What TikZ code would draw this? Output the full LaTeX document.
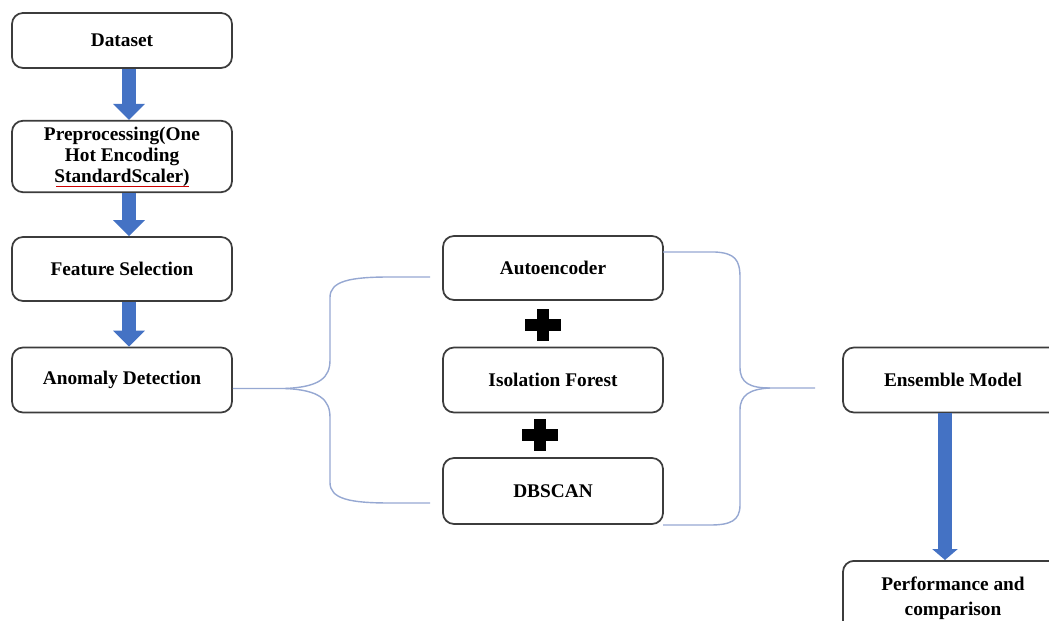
\documentclass[tikz,border=0pt]{standalone}
\usepackage{fontspec}
\setmainfont{Liberation Serif}
\usetikzlibrary{arrows.meta}

\definecolor{boxline}{RGB}{60,60,60}
\definecolor{flowblue}{RGB}{68,114,196}
\definecolor{bracecol}{RGB}{150,168,210}

\tikzset{
  stage/.style={draw=boxline, line width=1pt, rounded corners=0.22cm, fill=white,
    minimum width=4.4cm, minimum height=1.3cm, align=center,
    font=\fontsize{11}{11}\selectfont\bfseries},
  flowarrow/.style={draw=flowblue, line width=0.27cm,
    -{Triangle[width=0.62cm,length=0.32cm]}},
  bracket/.style={draw=bracecol, line width=0.8pt}
}

\begin{document}
\begin{tikzpicture}
            \useasboundingbox (0,0) rectangle (20.98,-12.42);
            % left column
            \node[stage, minimum height=1.1cm] (ds) at (2.44,-0.81) {Dataset};
            \node[stage] (pp) at (2.44,-3.13) {Preprocessing(One\\[1pt]Hot Encoding\\[1pt]StandardScaler)};
            \draw[red!80!black, line width=0.4pt] (1.12,-3.72) -- (3.78,-3.72);
            \node[stage, minimum height=1.28cm] (fs) at (2.44,-5.38) {Feature Selection};
            \node[stage] (ad) at (2.44,-7.6) {Anomaly Detection};
            \draw[flowarrow] ([xshift=0.14cm]ds.south) -- ([xshift=0.14cm]pp.north);
            \draw[flowarrow] ([xshift=0.14cm]pp.south) -- ([xshift=0.14cm]fs.north);
            \draw[flowarrow] ([xshift=0.14cm]fs.south) -- ([xshift=0.14cm]ad.north);
            % middle column
            \node[stage, minimum height=1.28cm] (ae) at (11.06,-5.36) {Autoencoder};
            \node[stage] (if) at (11.06,-7.6) {Isolation Forest};
            \node[stage, minimum height=1.32cm] (db) at (11.06,-9.82) {DBSCAN};
            \foreach \px/\py in {10.86/-6.5, 10.8/-8.7} {
              \fill (\px-0.36,\py-0.12) rectangle (\px+0.36,\py+0.12);
              \fill (\px-0.12,\py-0.32) rectangle (\px+0.12,\py+0.32);
            }
            % braces
            \coordinate (lt) at (8.6,-5.54);
            \coordinate (lb) at (8.6,-10.06);
            \draw[bracket] ([yshift=-0.17cm]ad.east) -- (5.7,-7.77)
              .. controls (6.4,-7.74) and (6.6,-7.55) .. (6.6,-7.2) -- (6.6,-5.95)
              .. controls (6.6,-5.62) and (7.0,-5.54) .. (7.8,-5.54) -- (lt);
            \draw[bracket] (5.7,-7.77)
              .. controls (6.4,-7.8) and (6.6,-8.0) .. (6.6,-8.35) -- (6.6,-9.65)
              .. controls (6.6,-9.98) and (7.0,-10.06) .. (7.8,-10.06) -- (lb);
            \coordinate (rt) at (13.26,-5.04);
            \coordinate (rb) at (13.26,-10.5);
            \coordinate (rtip) at (16.3,-7.76);
            \draw[bracket] (rt) -- (14.3,-5.04)
              .. controls (14.7,-5.06) and (14.8,-5.2) .. (14.8,-5.55) -- (14.8,-7.35)
              .. controls (14.8,-7.66) and (15.0,-7.76) .. (15.4,-7.76) -- (rtip);
            \draw[bracket] (15.4,-7.76)
              .. controls (15.0,-7.78) and (14.8,-7.9) .. (14.8,-8.2) -- (14.8,-10.1)
              .. controls (14.8,-10.42) and (14.6,-10.5) .. (14.2,-10.5) -- (rb);
            % right column
            \node[stage] (em) at (19.06,-7.6) {Ensemble Model};
            \node[stage, minimum height=1.5cm, anchor=north, font=\fontsize{11}{14}\selectfont\bfseries] (pc) at (19.06,-11.2) {Performance and\\comparison};
            \draw[flowarrow, line width=0.28cm, -{Triangle[width=0.5cm,length=0.22cm]}] ([xshift=-0.16cm]em.south) -- ([xshift=-0.16cm]pc.north);
        \end{tikzpicture}
\end{document}
